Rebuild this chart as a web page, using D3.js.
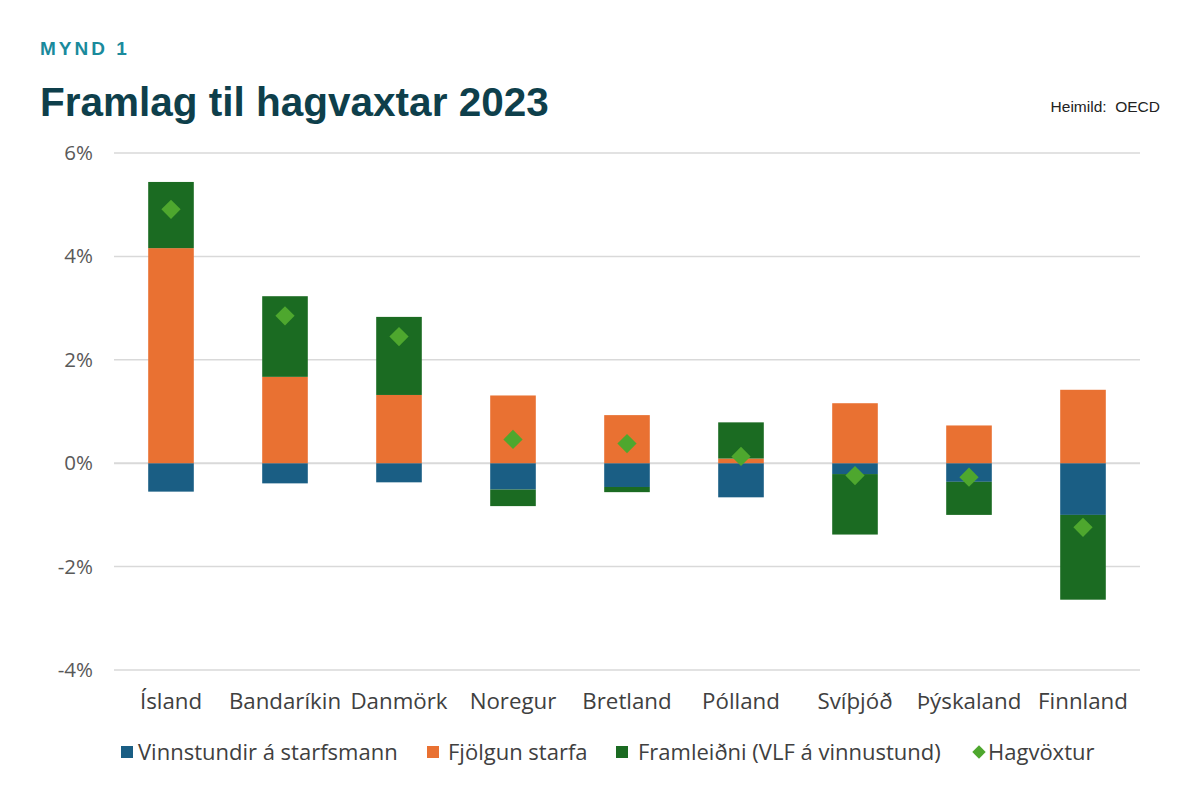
<!DOCTYPE html>
<html><head><meta charset="utf-8">
<script src="https://cdn.jsdelivr.net/npm/d3@7"></script>
<style>body{margin:0;background:#fff}svg{display:block}</style>
</head><body>
<script>
const categories = ["Ísland","Bandaríkin","Danmörk","Noregur","Bretland","Pólland","Svíþjóð","Þýskaland","Finnland"];
const vinnstundir = [-0.55,-0.39,-0.37,-0.51,-0.46,-0.66,-0.21,-0.36,-1.00];
const fjolgun = [4.16,1.67,1.32,1.31,0.93,0.09,1.16,0.73,1.42];
const framleidni = [1.28,1.56,1.51,-0.32,-0.10,0.70,-1.17,-0.64,-1.64];
const hagvoxtur = [4.91,2.85,2.45,0.46,0.38,0.13,-0.24,-0.27,-1.24];
const yTicks = [-4,-2,0,2,4,6];
const seriesNames = ["Vinnstundir á starfsmann","Fjölgun starfa","Framleiðni (VLF á vinnustund)","Hagvöxtur"];
const colors = ["#1a5e84","#e97132","#1b6b22","#4ea72e"];

const W=1200,H=800;
const svg=d3.select("body").append("svg").attr("width",W).attr("height",H);
const font="'Liberation Sans', Arial, sans-serif";
const font2="'Open Sans', 'Liberation Sans', sans-serif";

svg.append("text").attr("x",40).attr("y",55).text("MYND 1")
  .attr("font-family",font).attr("font-weight","bold").attr("font-size",19)
  .attr("letter-spacing",3).attr("fill","#1a8a9c");
svg.append("text").attr("x",40).attr("y",116).text("Framlag til hagvaxtar 2023")
  .attr("font-family",font).attr("font-weight","bold").attr("font-size",40.5)
  .attr("fill","#0e3f4b");
svg.append("text").attr("x",1160).attr("y",112).attr("text-anchor","end").text("Heimild:  OECD")
  .attr("font-family",font).attr("font-size",15.5).attr("fill","#222").attr("xml:space","preserve");

const x=d3.scaleBand().domain(categories).range([114,1140]).paddingInner(0.6).paddingOuter(0.3);
const y=d3.scaleLinear().domain([-4,6]).range([670,153]);

const grid=svg.append("g");
grid.selectAll("line").data(yTicks).join("line")
  .attr("x1",114).attr("x2",1140).attr("y1",d=>y(d)).attr("y2",d=>y(d))
  .attr("stroke","#d9d9d9").attr("stroke-width",d=>d===0?2:1.5);

const yAxis=d3.axisLeft(y).tickValues(yTicks).tickFormat(d=>d+"%").tickSize(0).tickPadding(0);
const ya=svg.append("g").attr("transform","translate(93,0)").call(yAxis);
ya.select(".domain").remove();
ya.selectAll("text").attr("font-family",font2).attr("font-size",20.5).attr("fill","#595959");

const rows=categories.map((c,i)=>({cat:c,v:vinnstundir[i],f:fjolgun[i],p:framleidni[i]}));
const stack=d3.stack().keys(["v","f","p"]).offset(d3.stackOffsetDiverging);
const st=stack(rows);
svg.append("g").selectAll("g").data(st).join("g").attr("fill",(d,i)=>colors[i])
  .selectAll("rect").data(d=>d).join("rect")
  .attr("x",d=>x(d.data.cat)).attr("width",x.bandwidth())
  .attr("y",d=>y(Math.max(d[0],d[1]))).attr("height",d=>Math.abs(y(d[0])-y(d[1])));

const diamond=d3.symbol().type(d3.symbolSquare).size(185);
svg.append("g").selectAll("path").data(categories).join("path")
  .attr("d",diamond).attr("fill",colors[3])
  .attr("transform",(c,i)=>`translate(${x(c)+x.bandwidth()/2},${y(hagvoxtur[i])}) rotate(45)`);

const xAxis=d3.axisBottom(x).tickSize(0).tickPadding(0);
const xa=svg.append("g").attr("transform","translate(0,709)").call(xAxis);
xa.select(".domain").remove();
xa.selectAll("text").attr("font-family",font2).attr("font-size",22.3).attr("fill","#404040").attr("dy",0);

const legSym=[121,427,616,979];
const legTxt=[138,448,638,988];
const lg=svg.append("g");
seriesNames.forEach((n,i)=>{
  if(i<3) lg.append("rect").attr("x",legSym[i]).attr("y",746).attr("width",12).attr("height",12).attr("fill",colors[i]);
  else lg.append("path").attr("d",d3.symbol().type(d3.symbolSquare).size(90)).attr("transform",`translate(${legSym[i]},752) rotate(45)`).attr("fill",colors[i]);
  lg.append("text").attr("x",legTxt[i]).attr("y",760).text(n)
   .attr("font-family",font2).attr("font-size",22).attr("fill","#404040");
});
</script>
</body></html>
